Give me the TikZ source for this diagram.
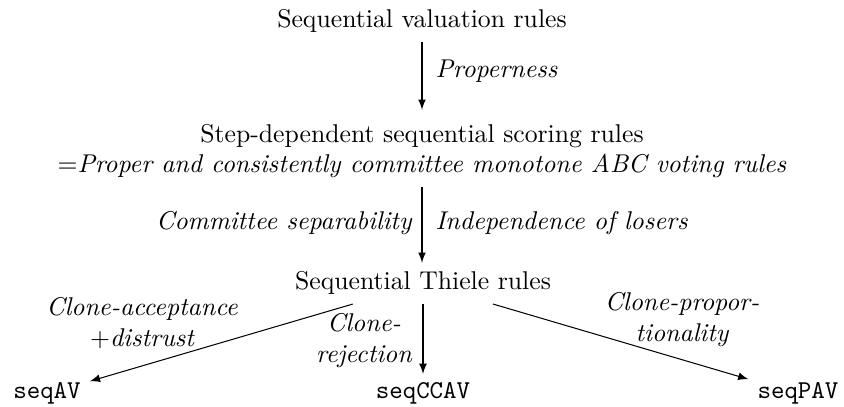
\documentclass[tikz,border=0pt]{standalone}
\usetikzlibrary{arrows}
\begin{document}
\begin{tikzpicture}[x=0.389pt,y=-0.389pt,
  arr/.style={->,>=latex},
  lab/.style={font=\itshape, inner sep=0pt},
  rulebox/.style={inner sep=3.33pt}]
\useasboundingbox (0,0) rectangle (844,407);

\node[rulebox, anchor=base] (svr) at (422,28) {Sequential valuation rules};
\node[rulebox, anchor=base, align=center] (sds) at (422,173) {Step-dependent sequential scoring rules\\$=$\textit{Proper and consistently committee monotone ABC voting rules}};
\node[rulebox, anchor=base] (str) at (423,290) {Sequential Thiele rules};
\node[rulebox, anchor=base, font=\ttfamily] (av) at (47,399) {seqAV};
\node[rulebox, anchor=base, font=\ttfamily] (ccav) at (423,399) {seqCCAV};
\node[rulebox, anchor=base, font=\ttfamily] (pav) at (798,399) {seqPAV};

\draw[arr, shorten >=2pt] (svr.south) -- (svr.south |- sds.north);
\draw[arr] (sds.south) -- (sds.south |- str.north);
\draw[arr] (str) -- (av);
\draw[arr] (str) -- (ccav);
\draw[arr] (str) -- (pav);

\node[lab, anchor=base west] (l1) at (435,78) {Properness};
\node[lab, anchor=base east] (l2) at (412,230) {Committee separability};
\node[lab, anchor=base west] (l3) at (435,230) {Independence of losers};
\node[lab, align=center] (l4) at (142,323) {Clone-acceptance\\$+$\textit{distrust}};
\node[lab, align=center] (l5) at (364,341) {Clone-\\rejection};
\node[lab, align=center] (l6) at (682,320) {Clone-propor-\\tionality};
\end{tikzpicture}
\end{document}
